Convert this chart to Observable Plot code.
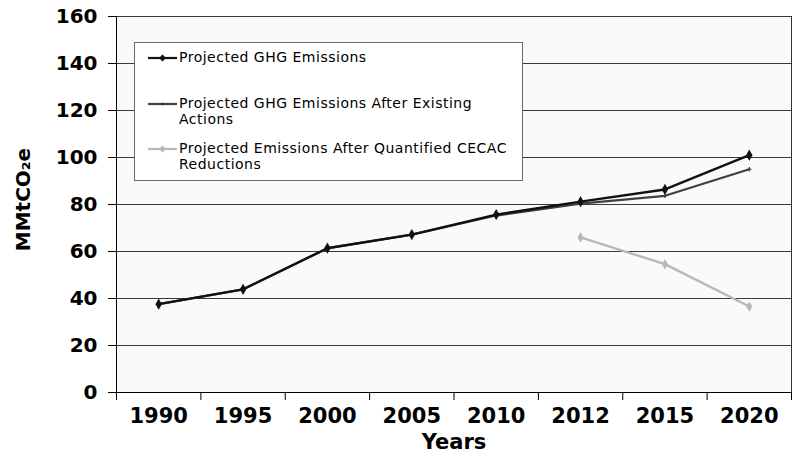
<!DOCTYPE html>
<html>
<head>
<meta charset="utf-8">
<script src="https://cdn.jsdelivr.net/npm/d3@7"></script>
<script src="https://cdn.jsdelivr.net/npm/@observablehq/plot@0.6"></script>
<style>
  html, body { margin: 0; padding: 0; background: #ffffff; }
  #wrap { position: relative; width: 797px; height: 462px; font-family: "DejaVu Sans", Verdana, sans-serif; }
  #legend { position: absolute; left: 134px; top: 42px; width: 387px; height: 137px; background: #ffffff; border: 1px solid #6a6a6a; font-size: 14px; letter-spacing: 0.5px; color: #000; }
  .item { position: absolute; left: 13px; display: flex; align-items: flex-start; }
  .item svg { flex: none; margin-top: 2px; }
  .item span { margin-left: 2px; line-height: 15.7px; white-space: nowrap; }
</style>
</head>
<body>
<div id="wrap"></div>
<script>
const years = ["1990", "1995", "2000", "2005", "2010", "2012", "2015", "2020"];
const projected = [37.6, 43.9, 61.4, 67.2, 75.7, 81.2, 86.4, 101.0];
const existing = [37.6, 43.9, 61.4, 67.2, 75.3, 80.4, 83.7, 95.0];
const cecac = [null, null, null, null, null, 66.0, 54.6, 36.6];
const yTicks = [0, 20, 40, 60, 80, 100, 120, 140, 160];
const seriesNames = [
  "Projected GHG Emissions",
  "Projected GHG Emissions After Existing Actions",
  "Projected Emissions After Quantified CECAC Reductions"
];
const seriesColors = ["#111111", "#404040", "#b8b8b8"];

const rows = (vals) => years.map((y, i) => ({i, year: y, v: vals[i]})).filter(d => d.v != null);
const s1 = rows(projected), s2 = rows(existing), s3 = rows(cecac);
const centers = years.map((_, i) => i);
const bounds = d3.range(years.length + 1).map(i => i - 0.5);

const chart = Plot.plot({
  width: 797,
  height: 462,
  marginLeft: 116,
  marginRight: 6,
  marginTop: 16,
  marginBottom: 70,
  style: {fontFamily: "DejaVu Sans, Verdana, sans-serif", background: "#ffffff", color: "#000"},
  x: {type: "linear", domain: [-0.5, years.length - 0.5], axis: null},
  y: {domain: [0, 160], axis: null},
  marks: [
    Plot.frame({fill: "#fafafa", stroke: "#333333"}),
    Plot.ruleY(yTicks.filter(v => v > 0), {stroke: "#3a3a3a", strokeWidth: 1}),
    Plot.axisY(yTicks, {tickSize: 8, tickPadding: 11, fontSize: 20, fontWeight: "bold", label: null, tickFormat: d => String(d), stroke: "#000"}),
    Plot.axisX(bounds, {tickSize: 8, tickFormat: () => "", label: null, stroke: "#000"}),
    Plot.axisX(centers, {tickSize: 0, tickPadding: 16, fontSize: 21, fontWeight: "bold", label: null, tickFormat: i => years[i]}),
    Plot.ruleX([-0.5], {stroke: "#000"}),
    Plot.ruleY([0], {stroke: "#000"}),
    Plot.line(s2, {x: "i", y: "v", stroke: seriesColors[1], strokeWidth: 2.2}),
    Plot.dot(s2, {x: "i", y: "v", symbol: "plus", r: 1.6, stroke: seriesColors[1], strokeWidth: 1.2}),
    Plot.line(s1, {x: "i", y: "v", stroke: seriesColors[0], strokeWidth: 2.4}),
    Plot.dot(s1, {x: "i", y: "v", symbol: "diamond", r: 3.4, fill: seriesColors[0]}),
    Plot.line(s3, {x: "i", y: "v", stroke: seriesColors[2], strokeWidth: 2.4}),
    Plot.dot(s3, {x: "i", y: "v", symbol: "diamond", r: 3.2, fill: seriesColors[2]}),
    Plot.text(["MMtCO₂e"], {frameAnchor: "left", textAnchor: "middle", rotate: -90, dx: -93, dy: -5, fontSize: 20, fontWeight: "bold", fill: "#000"}),
    Plot.text(["Years"], {frameAnchor: "bottom", dy: 56, fontSize: 21, fontWeight: "bold", fill: "#000"})
  ]
});

const wrap = document.getElementById("wrap");
wrap.appendChild(chart);

const legend = document.createElement("div");
legend.id = "legend";
const tops = [7, 53, 98];
const labels = [
  "Projected GHG Emissions",
  "Projected GHG Emissions After Existing<br>Actions",
  "Projected Emissions After Quantified CECAC<br>Reductions"
];
const markers = ["diamond", "plus", "diamond"];
labels.forEach((lab, k) => {
  const item = document.createElement("div");
  item.className = "item";
  item.style.top = tops[k] + "px";
  const c = seriesColors[k];
  let mk = "";
  if (markers[k] === "diamond") mk = `<path d="M14.5,2.5 L18,6 L14.5,9.5 L11,6 Z" fill="${c}"/>`;
  else mk = `<path d="M14.5,4.5 L14.5,7.5" stroke="${c}" stroke-width="1.2"/>`;
  item.innerHTML = `<svg width="29" height="12"><line x1="0" x2="29" y1="6" y2="6" stroke="${c}" stroke-width="2.2"/>${mk}</svg><span>${lab}</span>`;
  legend.appendChild(item);
});
wrap.appendChild(legend);
</script>
</body>
</html>
